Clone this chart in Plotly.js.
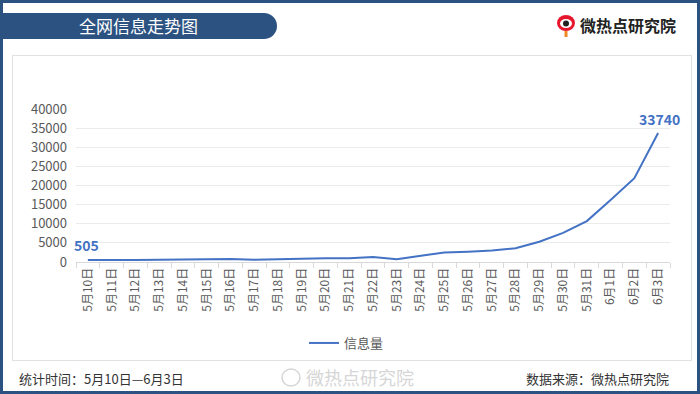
<!DOCTYPE html>
<html>
<head>
<meta charset="utf-8">
<script src="https://cdn.plot.ly/plotly-3.0.1.min.js"></script>
<style>
  html, body { margin: 0; padding: 0; background: #ffffff; }
  #wrap { position: relative; width: 700px; height: 394px; overflow: hidden; background: #ffffff; }
  #frame { position: absolute; left: 0; top: 0; width: 694px; height: 388px; border: 3px solid #2c5282; }
  #panel { position: absolute; left: 12px; top: 55px; width: 678px; height: 304px; border: 1px solid #e2e2e2; background: #ffffff; }
  #banner { position: absolute; left: 3px; top: 13px; width: 274px; height: 26px; background: #2c5282; border-radius: 0 13px 13px 0; }
  #chart { position: absolute; left: 0; top: 0; width: 700px; height: 394px; }
</style>
</head>
<body>
<div id="wrap">
  <div id="frame"></div>
  <div id="panel"></div>
  <div id="banner"></div>
  <div id="chart"></div>
</div>
<script>
// ---- data ----
const categories = ["5月10日","5月11日","5月12日","5月13日","5月14日","5月15日","5月16日","5月17日","5月18日","5月19日","5月20日","5月21日","5月22日","5月23日","5月24日","5月25日","5月26日","5月27日","5月28日","5月29日","5月30日","5月31日","6月1日","6月2日","6月3日"];
const infoVolume = [505,420,520,620,700,780,800,560,750,900,1000,1000,1300,750,1600,2500,2700,3000,3600,5300,7600,10700,16200,21900,33740];
const seriesName = "信息量";
const yTicks = [0,5000,10000,15000,20000,25000,30000,35000,40000];
const titleText = "全网信息走势图";
const brandText = "微热点研究院";
const periodText = "统计时间：5月10日—6月3日";
const sourceText = "数据来源：微热点研究院";

// ---- layout helpers ----
const W = 700, H = 394;
const ML = 76, MR = 30, MT = 109, MB = 132;
const PW = W - ML - MR, PH = H - MT - MB;
const px = x => (x - ML) / PW;
const py = y => (H - MB - y) / PH;

const cjk = '"Noto Sans CJK SC", "Microsoft YaHei", sans-serif';
const blue = '#4472c4';
const last = infoVolume.length - 1;

const trace = {
  type: 'scatter',
  mode: 'lines',
  name: seriesName,
  x: categories,
  y: infoVolume,
  line: { color: blue, width: 2 },
  hoverinfo: 'x+y'
};

const annotations = [
  { x: categories[0], y: infoVolume[0], xref: 'x', yref: 'y', text: String(infoVolume[0]),
    showarrow: false, yshift: 15, xshift: -1, font: { family: cjk, size: 14, color: blue, weight: 'bold' } },
  { x: categories[last], y: infoVolume[last], xref: 'x', yref: 'y', text: String(infoVolume[last]),
    showarrow: false, yshift: 14, xshift: 1, font: { family: cjk, size: 14, color: blue, weight: 'bold' } },
  { xref: 'paper', yref: 'paper', x: px(138), y: py(26), text: titleText, showarrow: false,
    xanchor: 'center', yanchor: 'middle', font: { family: cjk, size: 17, color: '#ffffff' } },
  { xref: 'paper', yref: 'paper', x: px(578), y: py(25), text: '<b>' + brandText + '</b>', showarrow: false,
    xanchor: 'left', yanchor: 'middle', font: { family: cjk, size: 16, color: '#222222' } },
  { xref: 'paper', yref: 'paper', x: px(17), y: py(378), text: periodText, showarrow: false,
    xanchor: 'left', yanchor: 'middle', font: { family: cjk, size: 13, color: '#333333' } },
  { xref: 'paper', yref: 'paper', x: px(671), y: py(378), text: sourceText, showarrow: false,
    xanchor: 'right', yanchor: 'middle', font: { family: cjk, size: 13, color: '#333333' } },
  { xref: 'paper', yref: 'paper', x: px(304), y: py(377), text: brandText, showarrow: false,
    xanchor: 'left', yanchor: 'middle', font: { family: cjk, size: 18, color: '#d6d6d6' } }
];

const shapes = [
  // brand eye icon
  { type: 'circle', xref: 'paper', yref: 'paper', x0: px(557), x1: px(575), y0: py(31), y1: py(15),
    fillcolor: '#e6162d', line: { width: 0 } },
  { type: 'circle', xref: 'paper', yref: 'paper', x0: px(560), x1: px(572), y0: py(28), y1: py(19),
    fillcolor: '#ffffff', line: { width: 0 } },
  { type: 'circle', xref: 'paper', yref: 'paper', x0: px(563), x1: px(569), y0: py(26.5), y1: py(20.5),
    fillcolor: '#222222', line: { width: 0 } },
  { type: 'line', xref: 'paper', yref: 'paper', x0: px(566), x1: px(566), y0: py(31), y1: py(37),
    line: { color: '#f08a24', width: 3 } },
  // watermark weibo mark
  { type: 'circle', xref: 'paper', yref: 'paper', x0: px(282), x1: px(300), y0: py(386), y1: py(369),
    fillcolor: 'rgba(0,0,0,0)', line: { color: '#d6d6d6', width: 1.5 } }
];

const layout = {
  width: W, height: H,
  margin: { l: ML, r: MR, t: MT, b: MB, pad: 0, autoexpand: false },
  paper_bgcolor: 'rgba(0,0,0,0)',
  plot_bgcolor: 'rgba(0,0,0,0)',
  showlegend: true,
  legend: {
    orientation: 'h', xanchor: 'left', yanchor: 'middle',
    x: px(304), y: py(343),
    font: { family: cjk, size: 13, color: '#595959' },
    bgcolor: 'rgba(0,0,0,0)'
  },
  xaxis: {
    type: 'category',
    range: [-0.5, categories.length - 0.5],
    automargin: false,
    tickangle: -90,
    tickfont: { family: cjk, size: 12, color: '#595959' },
    showline: true, linecolor: '#d9d9d9', linewidth: 1,
    ticks: 'outside', ticklen: 5, tickcolor: '#d9d9d9', tickson: 'boundaries',
    showgrid: false, zeroline: false,
    fixedrange: true
  },
  yaxis: {
    range: [0, 40000],
    automargin: false,
    tickvals: yTicks,
    ticktext: yTicks.map(String),
    tickfont: { family: cjk, size: 13, color: '#595959' },
    showgrid: true, gridcolor: '#ebebeb', gridwidth: 1,
    zeroline: false, showline: false, ticks: '',
    ticklabelstandoff: 8,
    fixedrange: true
  },
  annotations: annotations,
  shapes: shapes
};

Plotly.newPlot('chart', [trace], layout, { displayModeBar: false, staticPlot: true });
</script>
</body>
</html>
